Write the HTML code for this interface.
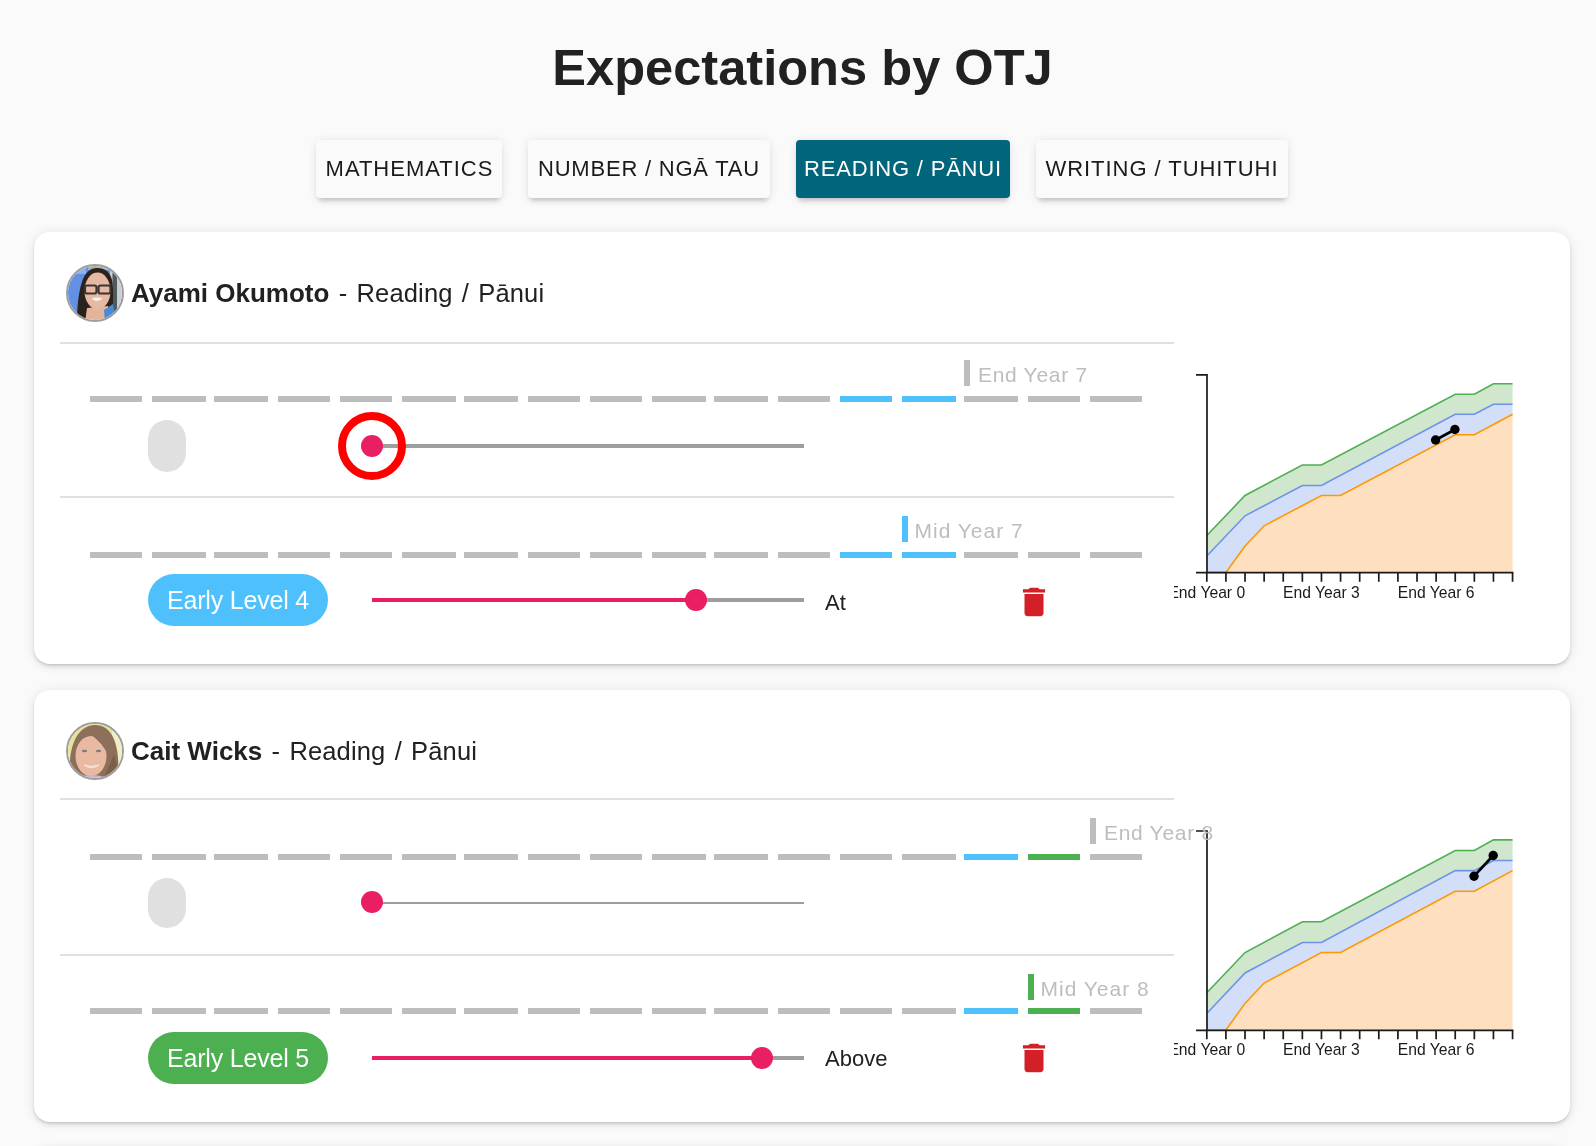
<!DOCTYPE html>
<html>
<head>
<meta charset="utf-8">
<style>
html,body{margin:0;padding:0;}
body{will-change:transform;width:1596px;height:1146px;overflow:hidden;background:#fafafa;position:relative;font-family:"Liberation Sans",sans-serif;color:#212121;}
.title{position:absolute;left:0;width:1605px;text-align:center;font-size:50.6px;font-weight:bold;line-height:1;top:43px;color:#212121;}
.btn{position:absolute;top:140px;height:58px;border-radius:4px;background:#fafafa;font-size:22px;letter-spacing:0.7px;line-height:58px;text-align:center;color:#1a1a1a;
 box-shadow:0 4px 4px -2px rgba(0,0,0,.12),0 6px 6px -2px rgba(0,0,0,.08),0 1px 10px 0 rgba(0,0,0,.1);}
.btn.on{background:#01657c;color:#fff;}
.card{position:absolute;left:34px;width:1536px;height:432px;background:#fff;border-radius:16px;
 box-shadow:0 2px 3px -1px rgba(0,0,0,.15),0 3px 5px 0 rgba(0,0,0,.08),0 1px 12px 0 rgba(0,0,0,.1);}
.divider{position:absolute;left:26px;width:1114px;height:2px;background:#e0e0e0;}
.avatar{position:absolute;left:32px;width:58px;height:58px;border-radius:50%;overflow:hidden;box-sizing:border-box;border:2px solid #9e9e9e;}
.avatar svg{display:block;width:54px;height:54px;}
.name{position:absolute;left:97px;white-space:nowrap;font-size:25.5px;line-height:1;}
.name b{font-weight:bold;font-size:26px;}
.name span{letter-spacing:0.15px;word-spacing:2px;}
.dash{position:absolute;height:6px;width:52.5px;background:#bdbdbd;}
.dash.b{background:#4ec1fd;}
.dash.g{background:#4caf50;}
.mark{position:absolute;width:6px;height:26px;background:#bdbdbd;}
.mark.b{background:#4ec1fd;}
.mark.g{background:#4caf50;}
.lbl{position:absolute;z-index:2;white-space:nowrap;font-size:21px;letter-spacing:0.7px;color:#bdbdbd;line-height:1;}
.pill{position:absolute;left:114px;width:38px;height:52px;border-radius:26px;background:#e0e0e0;}
.chip{position:absolute;left:114px;width:180px;height:52px;border-radius:26px;color:#fff;font-size:25px;letter-spacing:-0.2px;line-height:52px;text-align:center;}
.track{position:absolute;left:338px;width:432px;background:#9e9e9e;}
.thumb{position:absolute;width:22px;height:22px;border-radius:50%;background:#e91e63;}
.ring{position:absolute;width:52px;height:52px;border-radius:50%;border:8px solid #f00;}
.status{position:absolute;left:791px;font-size:22px;line-height:1;color:#212121;}
.trash{position:absolute;left:981px;width:38px;height:38px;}
.chart{position:absolute;left:1140px;top:0;width:396px;height:432px;overflow:hidden;}

</style>
</head>
<body>
<div class="title">Expectations by OTJ</div>
<div class="btn" style="left:316px;width:186px;letter-spacing:1.0px;text-indent:1px">MATHEMATICS</div>
<div class="btn" style="left:528px;width:242px;letter-spacing:0.78px">NUMBER / NGĀ TAU</div>
<div class="btn on" style="left:796px;width:214px;letter-spacing:0.8px">READING / PĀNUI</div>
<div class="btn" style="left:1036px;width:252px;letter-spacing:0.95px">WRITING / TUHITUHI</div>
<div class="card" style="top:232px;">
<div class="avatar" style="top:32px"><svg viewBox="0 0 54 54"><defs><filter id="bl1"><feGaussianBlur stdDeviation="0.7"/></filter></defs><g filter="url(#bl1)"><rect x="-2" y="-2" width="58" height="58" fill="#6390e2"/><rect x="-2" y="-2" width="20" height="10" fill="#8fb1ea"/><rect x="20" y="-2" width="26" height="6" fill="#aab3a8"/><rect x="42" y="-2" width="14" height="58" fill="#c7cfd0"/><rect x="44.5" y="-2" width="4.5" height="58" fill="#4f5a60"/><path d="M9 56 C9 40 11 24 14 16 C17 6 23 2 29 2 C37 2 42 6 44 14 C46 24 45 40 44 56 Z" fill="#2b201c"/><path d="M19 42 L40 40 L42 56 L17 56 Z" fill="#e2b49c"/><ellipse cx="29.5" cy="25" rx="13" ry="18.5" fill="#e6baa2"/><rect x="17" y="19.5" width="11.5" height="8" rx="2" fill="none" stroke="#3a3430" stroke-width="2.2"/><rect x="30.5" y="19.5" width="12" height="8" rx="2" fill="none" stroke="#3a3430" stroke-width="2.2"/><path d="M23.5 32.5 Q29 30.5 34.5 32.5 Q29 37.5 23.5 32.5 Z" fill="#f8f0ee"/><path d="M36 44 L45 38 L48 56 L37 56 Z" fill="#4a8ad6"/></g></svg>
</div>
<div class="name" style="top:48px"><b>Ayami Okumoto</b><span> - Reading / Pānui</span></div>
<div class="divider" style="top:110px"></div>
<div class="dash " style="left:56px;width:52px;top:164px"></div>
<div class="dash " style="left:118px;width:54px;top:164px"></div>
<div class="dash " style="left:180px;width:54px;top:164px"></div>
<div class="dash " style="left:244px;width:52px;top:164px"></div>
<div class="dash " style="left:306px;width:52px;top:164px"></div>
<div class="dash " style="left:368px;width:54px;top:164px"></div>
<div class="dash " style="left:430px;width:54px;top:164px"></div>
<div class="dash " style="left:494px;width:52px;top:164px"></div>
<div class="dash " style="left:556px;width:52px;top:164px"></div>
<div class="dash " style="left:618px;width:54px;top:164px"></div>
<div class="dash " style="left:680px;width:54px;top:164px"></div>
<div class="dash " style="left:744px;width:52px;top:164px"></div>
<div class="dash b" style="left:806px;width:52px;top:164px"></div>
<div class="dash b" style="left:868px;width:54px;top:164px"></div>
<div class="dash " style="left:930px;width:54px;top:164px"></div>
<div class="dash " style="left:994px;width:52px;top:164px"></div>
<div class="dash " style="left:1056px;width:52px;top:164px"></div>
<div class="mark " style="left:930px;top:128px"></div>
<div class="lbl" style="left:944px;top:132px">End Year 7</div>
<div class="pill" style="top:188px;height:52px"></div>
<div class="track" style="top:212px;height:4px"></div>
<div class="ring" style="left:304px;top:180.0px"></div>
<div class="thumb" style="left:327px;top:203.0px"></div>
<div class="divider" style="top:264px"></div>
<div class="dash " style="left:56px;width:52px;top:320px"></div>
<div class="dash " style="left:118px;width:54px;top:320px"></div>
<div class="dash " style="left:180px;width:54px;top:320px"></div>
<div class="dash " style="left:244px;width:52px;top:320px"></div>
<div class="dash " style="left:306px;width:52px;top:320px"></div>
<div class="dash " style="left:368px;width:54px;top:320px"></div>
<div class="dash " style="left:430px;width:54px;top:320px"></div>
<div class="dash " style="left:494px;width:52px;top:320px"></div>
<div class="dash " style="left:556px;width:52px;top:320px"></div>
<div class="dash " style="left:618px;width:54px;top:320px"></div>
<div class="dash " style="left:680px;width:54px;top:320px"></div>
<div class="dash " style="left:744px;width:52px;top:320px"></div>
<div class="dash b" style="left:806px;width:52px;top:320px"></div>
<div class="dash b" style="left:868px;width:54px;top:320px"></div>
<div class="dash " style="left:930px;width:54px;top:320px"></div>
<div class="dash " style="left:994px;width:52px;top:320px"></div>
<div class="dash " style="left:1056px;width:52px;top:320px"></div>
<div class="mark b" style="left:868px;top:284px"></div>
<div class="lbl" style="left:880.5px;top:288px;letter-spacing:1px">Mid Year 7</div>
<div class="chip" style="top:342px;background:#4ec1fd">Early Level 4</div>
<div class="track" style="top:366px;height:4px"></div>
<div class="track" style="top:366px;height:4px;width:324px;background:#e91e63"></div>
<div class="thumb" style="left:651px;top:357px"></div>
<div class="status" style="top:360px">At</div>
<svg class="trash" style="top:351px" viewBox="0 0 24 24"><path fill="#d32027" d="M6 19c0 1.1.9 2 2 2h8c1.1 0 2-.9 2-2V7H6v12zM19 4h-3.5l-1-1h-5l-1 1H5v2h14V4z"/></svg>
<div class="chart"><svg width="396" height="432" style="position:absolute;left:0;top:0"><g transform="translate(-1174,-232)">
<polygon points="1206.80,535.50 1245.02,495.50 1302.35,465.00 1321.46,465.00 1455.23,394.20 1474.34,394.20 1493.45,383.70 1512.56,383.70 1512.56,404.20 1493.45,404.20 1474.34,414.20 1455.23,414.20 1321.46,485.50 1302.35,485.50 1245.02,515.80 1206.80,556.00" fill="#d0e6cd"/>
<polygon points="1206.80,556.00 1245.02,515.80 1302.35,485.50 1321.46,485.50 1455.23,414.20 1474.34,414.20 1493.45,404.20 1512.56,404.20 1512.56,414.20 1474.34,434.70 1455.23,434.70 1340.57,495.50 1321.46,495.50 1264.13,525.80 1245.02,546.00 1225.91,572.40 1206.80,572.40" fill="#d3dff8"/>
<polygon points="1206.80,572.40 1225.91,572.40 1245.02,546.00 1264.13,525.80 1321.46,495.50 1340.57,495.50 1455.23,434.70 1474.34,434.70 1512.56,414.20 1512.56,572.70 1206.80,572.70" fill="#fedfbf"/>
<polyline points="1206.80,535.50 1245.02,495.50 1302.35,465.00 1321.46,465.00 1455.23,394.20 1474.34,394.20 1493.45,383.70 1512.56,383.70" fill="none" stroke="#4caf50" stroke-width="1.6"/>
<polyline points="1206.80,556.00 1245.02,515.80 1302.35,485.50 1321.46,485.50 1455.23,414.20 1474.34,414.20 1493.45,404.20 1512.56,404.20" fill="none" stroke="#6d92ea" stroke-width="1.6"/>
<polyline points="1206.80,572.40 1225.91,572.40 1245.02,546.00 1264.13,525.80 1321.46,495.50 1340.57,495.50 1455.23,434.70 1474.34,434.70 1512.56,414.20" fill="none" stroke="#ff9800" stroke-width="1.6"/>
<path d="M1196,374.90 H1207 V572.70 H1196 M1207,572.70 H1513.4" fill="none" stroke="#1a1a1a" stroke-width="1.7"/>
<path d="M1206.80,572.70 V581.70 M1225.91,572.70 V581.70 M1245.02,572.70 V581.70 M1264.13,572.70 V581.70 M1283.24,572.70 V581.70 M1302.35,572.70 V581.70 M1321.46,572.70 V581.70 M1340.57,572.70 V581.70 M1359.68,572.70 V581.70 M1378.79,572.70 V581.70 M1397.90,572.70 V581.70 M1417.01,572.70 V581.70 M1436.12,572.70 V581.70 M1455.23,572.70 V581.70 M1474.34,572.70 V581.70 M1493.45,572.70 V581.70 M1512.56,572.70 V581.70" stroke="#1a1a1a" stroke-width="1.7"/>
<text x="1206.80" y="597.70" text-anchor="middle" font-family="Liberation Sans" font-size="15.7" fill="#1a1a1a">End Year 0</text>
<text x="1321.46" y="597.70" text-anchor="middle" font-family="Liberation Sans" font-size="15.7" fill="#1a1a1a">End Year 3</text>
<text x="1436.12" y="597.70" text-anchor="middle" font-family="Liberation Sans" font-size="15.7" fill="#1a1a1a">End Year 6</text>
<line x1="1435.6" y1="440" x2="1454.9" y2="429.5" stroke="#000" stroke-width="2.7"/>
<circle cx="1435.6" cy="440" r="4.7" fill="#000"/><circle cx="1454.9" cy="429.5" r="4.7" fill="#000"/>
</g></svg></div>
</div>
<div class="card" style="top:690px;">
<div class="avatar" style="top:32px"><svg viewBox="0 0 54 54"><defs><filter id="bl2"><feGaussianBlur stdDeviation="0.5"/></filter></defs><g filter="url(#bl2)"><rect width="54" height="54" fill="#e6e29c"/><rect x="44" y="0" width="10" height="54" fill="#f1eec4"/><path d="M2 54 C0 28 6 2 27 1 C46 1 52 24 50 54 Z" fill="#8c705b"/><ellipse cx="23" cy="32" rx="15.5" ry="20" fill="#e9b9a2"/><path d="M6 22 C8 8 20 5 30 6 C42 8 46 20 46 40 C40 30 34 18 22 10 C16 12 10 16 6 22 Z" fill="#8c705b"/><path d="M36 54 C40 44 44 36 46 30 L52 54 Z" fill="#7a5e4a"/><ellipse cx="16.5" cy="27" rx="2.6" ry="1.3" fill="#6f7f86"/><ellipse cx="30.5" cy="27" rx="2.6" ry="1.3" fill="#6f7f86"/><path d="M16 41 Q23.5 46 31 41 Q23.5 44 16 41 Z" fill="#fff" stroke="#efe0da" stroke-width="1.4"/><path d="M10 54 C14 50 32 50 38 54 Z" fill="#c7b6cc"/></g></svg>
</div>
<div class="name" style="top:48px"><b>Cait Wicks</b><span> - Reading / Pānui</span></div>
<div class="divider" style="top:108px"></div>
<div class="dash " style="left:56px;width:52px;top:164px"></div>
<div class="dash " style="left:118px;width:54px;top:164px"></div>
<div class="dash " style="left:180px;width:54px;top:164px"></div>
<div class="dash " style="left:244px;width:52px;top:164px"></div>
<div class="dash " style="left:306px;width:52px;top:164px"></div>
<div class="dash " style="left:368px;width:54px;top:164px"></div>
<div class="dash " style="left:430px;width:54px;top:164px"></div>
<div class="dash " style="left:494px;width:52px;top:164px"></div>
<div class="dash " style="left:556px;width:52px;top:164px"></div>
<div class="dash " style="left:618px;width:54px;top:164px"></div>
<div class="dash " style="left:680px;width:54px;top:164px"></div>
<div class="dash " style="left:744px;width:52px;top:164px"></div>
<div class="dash " style="left:806px;width:52px;top:164px"></div>
<div class="dash " style="left:868px;width:54px;top:164px"></div>
<div class="dash b" style="left:930px;width:54px;top:164px"></div>
<div class="dash g" style="left:994px;width:52px;top:164px"></div>
<div class="dash " style="left:1056px;width:52px;top:164px"></div>
<div class="mark " style="left:1056px;top:128px"></div>
<div class="lbl" style="left:1070px;top:132px">End Year 8</div>
<div class="pill" style="top:188px;height:50px"></div>
<div class="track" style="top:212px;height:2px"></div>
<div class="thumb" style="left:327px;top:201.0px"></div>
<div class="divider" style="top:264px"></div>
<div class="dash " style="left:56px;width:52px;top:318px"></div>
<div class="dash " style="left:118px;width:54px;top:318px"></div>
<div class="dash " style="left:180px;width:54px;top:318px"></div>
<div class="dash " style="left:244px;width:52px;top:318px"></div>
<div class="dash " style="left:306px;width:52px;top:318px"></div>
<div class="dash " style="left:368px;width:54px;top:318px"></div>
<div class="dash " style="left:430px;width:54px;top:318px"></div>
<div class="dash " style="left:494px;width:52px;top:318px"></div>
<div class="dash " style="left:556px;width:52px;top:318px"></div>
<div class="dash " style="left:618px;width:54px;top:318px"></div>
<div class="dash " style="left:680px;width:54px;top:318px"></div>
<div class="dash " style="left:744px;width:52px;top:318px"></div>
<div class="dash " style="left:806px;width:52px;top:318px"></div>
<div class="dash " style="left:868px;width:54px;top:318px"></div>
<div class="dash b" style="left:930px;width:54px;top:318px"></div>
<div class="dash g" style="left:994px;width:52px;top:318px"></div>
<div class="dash " style="left:1056px;width:52px;top:318px"></div>
<div class="mark g" style="left:994px;top:284px"></div>
<div class="lbl" style="left:1006.5px;top:288px;letter-spacing:1px">Mid Year 8</div>
<div class="chip" style="top:342px;background:#4caf50">Early Level 5</div>
<div class="track" style="top:366px;height:4px"></div>
<div class="track" style="top:366px;height:4px;width:390px;background:#e91e63"></div>
<div class="thumb" style="left:717px;top:357px"></div>
<div class="status" style="top:358px">Above</div>
<svg class="trash" style="top:349px" viewBox="0 0 24 24"><path fill="#d32027" d="M6 19c0 1.1.9 2 2 2h8c1.1 0 2-.9 2-2V7H6v12zM19 4h-3.5l-1-1h-5l-1 1H5v2h14V4z"/></svg>
<div class="chart"><svg width="396" height="432" style="position:absolute;left:0;top:0"><g transform="translate(-1174,-690)">
<polygon points="1206.80,992.82 1245.02,952.52 1302.35,921.78 1321.46,921.78 1455.23,850.45 1474.34,850.45 1493.45,839.87 1512.56,839.87 1512.56,860.52 1493.45,860.52 1474.34,870.60 1455.23,870.60 1321.46,942.44 1302.35,942.44 1245.02,972.97 1206.80,1013.48" fill="#d0e6cd"/>
<polygon points="1206.80,1013.48 1245.02,972.97 1302.35,942.44 1321.46,942.44 1455.23,870.60 1474.34,870.60 1493.45,860.52 1512.56,860.52 1512.56,870.60 1474.34,891.25 1455.23,891.25 1340.57,952.52 1321.46,952.52 1264.13,983.05 1245.02,1003.40 1225.91,1030.00 1206.80,1030.00" fill="#d3dff8"/>
<polygon points="1206.80,1030.00 1225.91,1030.00 1245.02,1003.40 1264.13,983.05 1321.46,952.52 1340.57,952.52 1455.23,891.25 1474.34,891.25 1512.56,870.60 1512.56,1030.30 1206.80,1030.30" fill="#fedfbf"/>
<polyline points="1206.80,992.82 1245.02,952.52 1302.35,921.78 1321.46,921.78 1455.23,850.45 1474.34,850.45 1493.45,839.87 1512.56,839.87" fill="none" stroke="#4caf50" stroke-width="1.6"/>
<polyline points="1206.80,1013.48 1245.02,972.97 1302.35,942.44 1321.46,942.44 1455.23,870.60 1474.34,870.60 1493.45,860.52 1512.56,860.52" fill="none" stroke="#6d92ea" stroke-width="1.6"/>
<polyline points="1206.80,1030.00 1225.91,1030.00 1245.02,1003.40 1264.13,983.05 1321.46,952.52 1340.57,952.52 1455.23,891.25 1474.34,891.25 1512.56,870.60" fill="none" stroke="#ff9800" stroke-width="1.6"/>
<path d="M1196,831.00 H1207 V1030.30 H1196 M1207,1030.30 H1513.4" fill="none" stroke="#1a1a1a" stroke-width="1.7"/>
<path d="M1206.80,1030.30 V1039.30 M1225.91,1030.30 V1039.30 M1245.02,1030.30 V1039.30 M1264.13,1030.30 V1039.30 M1283.24,1030.30 V1039.30 M1302.35,1030.30 V1039.30 M1321.46,1030.30 V1039.30 M1340.57,1030.30 V1039.30 M1359.68,1030.30 V1039.30 M1378.79,1030.30 V1039.30 M1397.90,1030.30 V1039.30 M1417.01,1030.30 V1039.30 M1436.12,1030.30 V1039.30 M1455.23,1030.30 V1039.30 M1474.34,1030.30 V1039.30 M1493.45,1030.30 V1039.30 M1512.56,1030.30 V1039.30" stroke="#1a1a1a" stroke-width="1.7"/>
<text x="1206.80" y="1055.30" text-anchor="middle" font-family="Liberation Sans" font-size="15.7" fill="#1a1a1a">End Year 0</text>
<text x="1321.46" y="1055.30" text-anchor="middle" font-family="Liberation Sans" font-size="15.7" fill="#1a1a1a">End Year 3</text>
<text x="1436.12" y="1055.30" text-anchor="middle" font-family="Liberation Sans" font-size="15.7" fill="#1a1a1a">End Year 6</text>
<line x1="1474.05" y1="876.2" x2="1493.2" y2="855.5" stroke="#000" stroke-width="2.7"/>
<circle cx="1474.05" cy="876.2" r="4.7" fill="#000"/><circle cx="1493.2" cy="855.5" r="4.7" fill="#000"/>
</g></svg></div>
</div>
<div class="card" style="top:1148px;"></div>
</body>
</html>
